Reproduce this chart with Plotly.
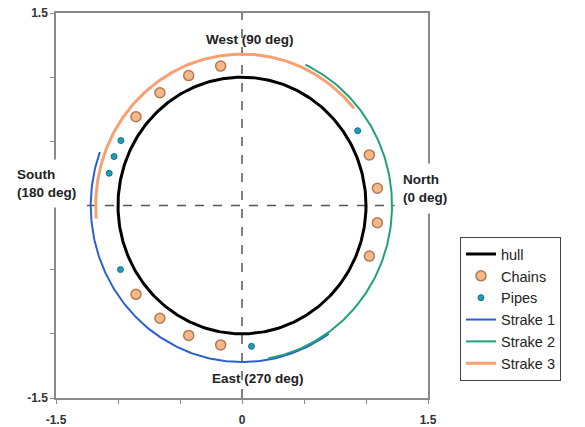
import numpy as np
import plotly.graph_objects as go

# ---- data (angles in degrees, 0 = North on +x, 90 = West on +y) ----
hull_radius = 1.0
chain_radius = 1.1
chain_angles = [-21, -7, 7, 21, 99, 113, 127, 141, 219, 233, 247, 261]
pipe_radius = 1.1
pipe_angles = [32, 152.6, 159.7, 166.8, 207, 274]
strake_names = ["Strake 1", "Strake 2", "Strake 3"]
strake_radius = [1.22, 1.21, 1.18]
strake_start = [160, 280, 40]
strake_end = [305, 425, 185]

x_ticks = [-1.5, -1.0, -0.5, 0, 0.5, 1.0, 1.5]
x_ticktext = ["-1.5", "", "", "0", "", "", "1.5"]
y_ticks = [-1.5, -1.0, -0.5, 0, 0.5, 1.0, 1.5]
y_ticktext = ["-1.5", "", "", "", "", "", "1.5"]

direction_labels = ["West (90 deg)", "East (270 deg)", "South<br>(180 deg)", "North<br>(0 deg)"]


def polar_xy(r, deg):
    t = np.radians(np.asarray(deg, dtype=float))
    return r * np.cos(t), r * np.sin(t)


fig = go.Figure()

# hull
hx, hy = polar_xy(hull_radius, np.linspace(0, 360, 361))
fig.add_trace(go.Scatter(x=hx, y=hy, mode="lines", name="hull",
                         line=dict(color="black", width=3)))

# chains
cx, cy = polar_xy(chain_radius, chain_angles)
fig.add_trace(go.Scatter(x=cx, y=cy, mode="markers", name="Chains",
                         marker=dict(size=10, color="#F6B888",
                                     line=dict(color="#B07A55", width=1.5))))

# pipes
px_, py_ = polar_xy(pipe_radius, pipe_angles)
fig.add_trace(go.Scatter(x=px_, y=py_, mode="markers", name="Pipes",
                         marker=dict(size=6, color="#1F9BB5",
                                     line=dict(color="#16708A", width=1))))

strake_colors = ["#2a5fd0", "#1fa27c", "#F7A070"]
strake_widths = [2, 2, 3]
for name, r, a0, a1, col, w in zip(strake_names, strake_radius, strake_start,
                                   strake_end, strake_colors, strake_widths):
    sx, sy = polar_xy(r, np.linspace(a0, a1, 200))
    fig.add_trace(go.Scatter(x=sx, y=sy, mode="lines", name=name,
                             line=dict(color=col, width=w)))

# dashed reference lines
fig.add_shape(type="line", x0=-1.25, x1=1.24, y0=0, y1=0, layer="below",
              line=dict(color="#555", width=1.5, dash="dash"))
fig.add_shape(type="line", x0=0, x1=0, y0=-1.5, y1=1.5, layer="below",
              line=dict(color="#555", width=1.5, dash="dash"))

lab_font = dict(family="Liberation Sans, Arial", size=13.5, color="#222", weight="bold")
fig.add_annotation(x=0.067, y=1.29, text=direction_labels[0], showarrow=False,
                   font=lab_font, xanchor="center", yanchor="middle")
fig.add_annotation(x=0.127, y=-1.345, text=direction_labels[1], showarrow=False,
                   font=lab_font, xanchor="center", yanchor="middle")
fig.add_annotation(xref="paper", yref="paper", x=-0.0255, y=0.556,
                   text=direction_labels[2], showarrow=False,
                   font=lab_font, xanchor="center", yanchor="middle", align="left",
                   bgcolor="white", borderpad=7)
fig.add_annotation(xref="paper", yref="paper", x=0.908, y=0.545,
                   text=direction_labels[3], showarrow=False,
                   font=lab_font, xanchor="left", yanchor="middle", align="left",
                   bgcolor="white", borderpad=8)

axis_common = dict(range=[-1.5, 1.5], showgrid=False, zeroline=False, automargin=False,
                   showline=True, linecolor="#8a8a8a", linewidth=1.5, mirror=True,
                   ticks="outside", ticklen=4, tickcolor="#8a8a8a",
                   tickfont=dict(family="Liberation Sans, Arial", size=12,
                                 color="#333", weight="bold"))

fig.update_layout(
    width=585, height=427,
    margin=dict(l=56, r=157, t=13, b=29, autoexpand=False),
    paper_bgcolor="white", plot_bgcolor="white",
    xaxis=dict(tickvals=x_ticks, ticktext=x_ticktext, ticklabelstandoff=6, **axis_common),
    yaxis=dict(tickvals=y_ticks, ticktext=y_ticktext, **axis_common),
    showlegend=True,
    legend=dict(x=1.086, y=0.418, xanchor="left", yanchor="top",
                bordercolor="#444", borderwidth=1, bgcolor="white",
                font=dict(family="Liberation Sans, Arial", size=14.5, color="#222"),
                itemwidth=30, tracegroupgap=0, entrywidth=85, entrywidthmode="pixels"),
)

fig.write_html("out.html")
